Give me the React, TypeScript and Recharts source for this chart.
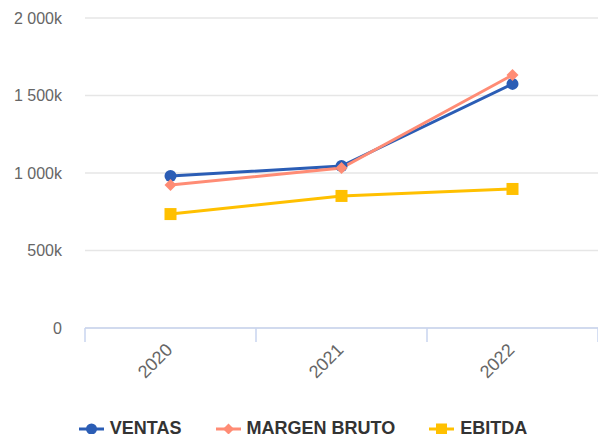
import React from 'react';
import { LineChart, Line, XAxis, YAxis, CartesianGrid, Legend } from 'recharts';

const years = ['2020', '2021', '2022'];
const ventas = [980000, 1045000, 1575000];
const margenBruto = [923000, 1032000, 1632000];
const ebitda = [735000, 852000, 897000];
const yTicks = [0, 500000, 1000000, 1500000, 2000000];

const COLORS = { ventas: '#2b5db5', margen: '#ff8c75', ebitda: '#ffc000' };
const FONT = '"Liberation Sans", Arial, sans-serif';

const data = years.map((y, i) => ({
  x: i + 0.5,
  year: y,
  ventas: ventas[i],
  margen: margenBruto[i],
  ebitda: ebitda[i],
}));

const fmtY = (v: number) => {
  if (v === 0) return '0';
  const k = Math.round(v / 1000);
  return String(k).replace(/\B(?=(\d{3})+(?!\d))/g, ' ') + 'k';
};

const XTick = (props: any) => {
  const { x, y, payload } = props;
  const v = payload.value;
  if (Number.isInteger(v)) {
    return <line x1={x} x2={x} y1={y} y2={y + 14} stroke="#c9d5ef" strokeWidth={1.5} />;
  }
  const idx = Math.floor(v);
  const tx = x + 3;
  const ty = y + 23;
  return (
    <text x={tx} y={ty} textAnchor="end" fill="#666" fontSize={18} fontFamily={FONT}
      transform={`rotate(-45, ${tx}, ${ty})`}>
      {years[idx]}
    </text>
  );
};

const CircleDot = (props: any) => {
  const { cx, cy } = props;
  if (cx == null || cy == null) return null;
  return <circle cx={cx} cy={cy} r={6} fill={COLORS.ventas} stroke="none" />;
};
const DiamondDot = (props: any) => {
  const { cx, cy } = props;
  if (cx == null || cy == null) return null;
  const s = 6;
  return <path d={`M${cx},${cy - s}L${cx + s},${cy}L${cx},${cy + s}L${cx - s},${cy}Z`} fill={COLORS.margen} />;
};
const SquareDot = (props: any) => {
  const { cx, cy } = props;
  if (cx == null || cy == null) return null;
  return <rect x={cx - 6} y={cy - 6} width={12} height={12} fill={COLORS.ebitda} />;
};

const legendItems = [
  { label: 'VENTAS', color: COLORS.ventas, shape: 'circle' },
  { label: 'MARGEN BRUTO', color: COLORS.margen, shape: 'diamond' },
  { label: 'EBITDA', color: COLORS.ebitda, shape: 'square' },
];

const LegendContent = () => (
  <div style={{ display: 'flex', justifyContent: 'center', gap: 34, fontFamily: FONT, paddingTop: 20, paddingLeft: 8 }}>
    {legendItems.map((it) => (
      <div key={it.label} style={{ display: 'flex', alignItems: 'center' }}>
        <svg width={25} height={14} style={{ marginRight: 6 }}>
          <line x1={0} x2={25} y1={7} y2={7} stroke={it.color} strokeWidth={3} />
          {it.shape === 'circle' && <circle cx={12.5} cy={7} r={5.5} fill={it.color} />}
          {it.shape === 'diamond' && <path d="M12.5,1.5L18,7L12.5,12.5L7,7Z" fill={it.color} />}
          {it.shape === 'square' && <rect x={7} y={1.5} width={11} height={11} fill={it.color} />}
        </svg>
        <span style={{ fontSize: 18, fontWeight: 'bold', color: '#333' }}>{it.label}</span>
      </div>
    ))}
  </div>
);

export default function App() {
  return (
    <div style={{ position: 'absolute', left: 0, top: 0, width: 598, height: 434, background: '#fff' }}>
      <LineChart width={598} height={434} data={data} margin={{ top: 18, right: 0, bottom: 0, left: 0 }}>
        <CartesianGrid horizontal vertical={false} stroke="#e6e6e6" strokeWidth={1.5} />
        <XAxis dataKey="x" type="number" domain={[0, 3]} ticks={[0, 0.5, 1, 1.5, 2, 2.5, 3]}
          interval={0} height={70} tickLine={false} tickSize={0} tickMargin={0}
          axisLine={{ stroke: '#c9d5ef', strokeWidth: 1.5 }} tick={<XTick />} />
        <YAxis width={85} domain={[0, 2000000]} ticks={yTicks} tickFormatter={fmtY}
          axisLine={false} tickLine={false} tickMargin={17}
          tick={{ fill: '#666', fontSize: 16, fontFamily: FONT }} />
        <Legend verticalAlign="bottom" height={36} content={<LegendContent />} />
        <Line dataKey="ventas" stroke={COLORS.ventas} strokeWidth={3} dot={<CircleDot />} activeDot={false} isAnimationActive={false} />
        <Line dataKey="margen" stroke={COLORS.margen} strokeWidth={3} dot={<DiamondDot />} activeDot={false} isAnimationActive={false} />
        <Line dataKey="ebitda" stroke={COLORS.ebitda} strokeWidth={3} dot={<SquareDot />} activeDot={false} isAnimationActive={false} />
      </LineChart>
    </div>
  );
}
